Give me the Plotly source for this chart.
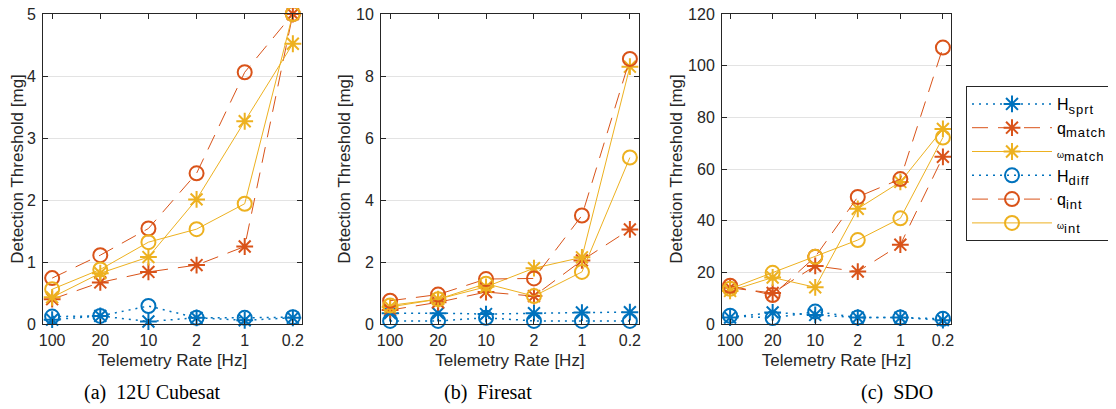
import plotly.graph_objects as go

rates = ["100", "20", "10", "2", "1", "0.2"]

# Panel (a) 12U Cubesat
a_H_sprt = [0.07, 0.13, 0.04, 0.10, 0.06, 0.10]
a_q_match = [0.40, 0.67, 0.84, 0.95, 1.25, 5.00]
a_w_match = [0.43, 0.82, 1.08, 2.01, 3.27, 4.52]
a_H_diff = [0.12, 0.13, 0.29, 0.10, 0.10, 0.11]
a_q_int = [0.74, 1.11, 1.54, 2.43, 4.06, 5.00]
a_w_int = [0.56, 0.88, 1.32, 1.53, 1.94, 5.00]

# Panel (b) Firesat
b_H_sprt = [0.35, 0.35, 0.32, 0.35, 0.37, 0.38]
b_q_match = [0.45, 0.70, 1.03, 0.90, 2.05, 3.05]
b_w_match = [0.55, 0.80, 1.20, 1.80, 2.15, 8.30]
b_H_diff = [0.10, 0.10, 0.20, 0.10, 0.10, 0.10]
b_q_int = [0.75, 0.95, 1.45, 1.47, 3.50, 8.55]
b_w_int = [0.60, 0.80, 1.30, 0.90, 1.68, 5.37]

# Panel (c) SDO
c_H_sprt = [2.5, 4.5, 3.5, 2.5, 2.5, 1.5]
c_q_match = [14.0, 12.0, 22.5, 20.3, 30.7, 64.7]
c_w_match = [12.8, 18.0, 14.2, 44.6, 55.0, 75.5]
c_H_diff = [3.2, 2.3, 4.8, 2.5, 2.5, 2.0]
c_q_int = [14.8, 11.2, 26.0, 49.2, 56.1, 107.0]
c_w_int = [13.6, 19.8, 26.0, 32.5, 40.9, 72.2]

panels = [
    (a_H_sprt, a_q_match, a_w_match, a_H_diff, a_q_int, a_w_int),
    (b_H_sprt, b_q_match, b_w_match, b_H_diff, b_q_int, b_w_int),
    (c_H_sprt, c_q_match, c_w_match, c_H_diff, c_q_int, c_w_int),
]
y_ranges = [(0, 5), (0, 10), (0, 120)]
y_dticks = [1, 2, 20]
captions = ["(a)  12U Cubesat", "(b)  Firesat", "(c)  SDO"]

BLUE = "#0072BD"
RED = "#D95319"
YEL = "#EDB120"
AX = "#262626"

SUB = "<sub><span style='font-size:13px;letter-spacing:1px'>{}</span></sub>"
OMEGA = "<span style='font-size:9px'>ω</span>"
names = [
    "H" + SUB.format("sprt"),
    "q" + SUB.format("match"),
    OMEGA + SUB.format("match"),
    "H" + SUB.format("diff"),
    "q" + SUB.format("int"),
    OMEGA + SUB.format("int"),
]
colors = [BLUE, RED, YEL, BLUE, RED, YEL]
symbols = ["asterisk-open"] * 3 + ["circle-open"] * 3
dashes = ["2px,5px", "16px,10px", "solid", "2px,5px", "16px,10px", "solid"]
lwidths = [1.5, 1.0, 1.0, 1.5, 1.0, 1.0]

W, H = 1116, 409
OFF = 8  # page body margin offset

fig = go.Figure()

x_px = [(43, 302), (381, 639), (722, 951)]
x_domains = [((l - OFF) / W, (r - OFF) / W) for l, r in x_px]
y_domain = (1 - (324 - OFF) / H, 1 - (14 - OFF) / H)

for p, series in enumerate(panels):
    xa = "x" if p == 0 else f"x{p+1}"
    ya = "y" if p == 0 else f"y{p+1}"
    for k, vals in enumerate(series):
        fig.add_trace(go.Scatter(
            x=rates, y=vals, name=names[k], xaxis=xa, yaxis=ya,
            mode="lines+markers",
            line=dict(color=colors[k], width=lwidths[k], dash=dashes[k]),
            marker=dict(symbol=symbols[k], size=14, color=colors[k],
                        line=dict(color=colors[k], width=2)),
            showlegend=(p == 0), cliponaxis=False,
        ))

axis_common = dict(
    showline=True, linecolor=AX, linewidth=1, mirror="ticks",
    ticks="inside", ticklen=5, tickcolor=AX, automargin=False,
    ticklabeloverflow="allow",
    tickfont=dict(family="Liberation Sans, Arial", size=16, color=AX),
    zeroline=False,
)

for p in range(3):
    sfx = "" if p == 0 else str(p + 1)
    fig.layout["xaxis" + sfx] = dict(
        axis_common, domain=x_domains[p], anchor="y" + sfx,
        type="category", categoryorder="array", categoryarray=rates,
        range=[-0.19, 5.19], showgrid=False, ticklabelstandoff=2,
        title=dict(text="Telemetry Rate [Hz]", standoff=5,
                   font=dict(family="Liberation Sans, Arial", size=17, color=AX)),
    )
    fig.layout["yaxis" + sfx] = dict(
        axis_common, domain=y_domain, anchor="x" + sfx,
        range=list(y_ranges[p]), dtick=y_dticks[p], ticklabelstandoff=3,
        showgrid=True, gridcolor="#e3e3e3", gridwidth=1,
        title=dict(text="Detection Threshold [mg]", standoff=1,
                   font=dict(family="Liberation Sans, Arial", size=17, color=AX)),
    )

cap_x = [152, 488, 897]
for p in range(3):
    fig.add_annotation(
        text=captions[p], xref="paper", yref="paper",
        x=(cap_x[p] - OFF) / W, y=1 - (392 - OFF) / H, xanchor="center", yanchor="middle",
        showarrow=False,
        font=dict(family="Liberation Serif, Times New Roman", size=20, color="black"),
    )

fig.update_layout(
    width=W, height=H,
    margin=dict(l=0, r=0, t=0, b=0),
    paper_bgcolor="white", plot_bgcolor="white",
    legend=dict(
        x=(966 - OFF) / W, y=1 - (86 - OFF) / H, xanchor="left", yanchor="top",
        bordercolor=AX, borderwidth=1, bgcolor="white",
        font=dict(family="Liberation Sans, Arial", size=16, color="black"),
        itemwidth=80, tracegroupgap=0,
    ),
)

fig.write_html("out.html")
